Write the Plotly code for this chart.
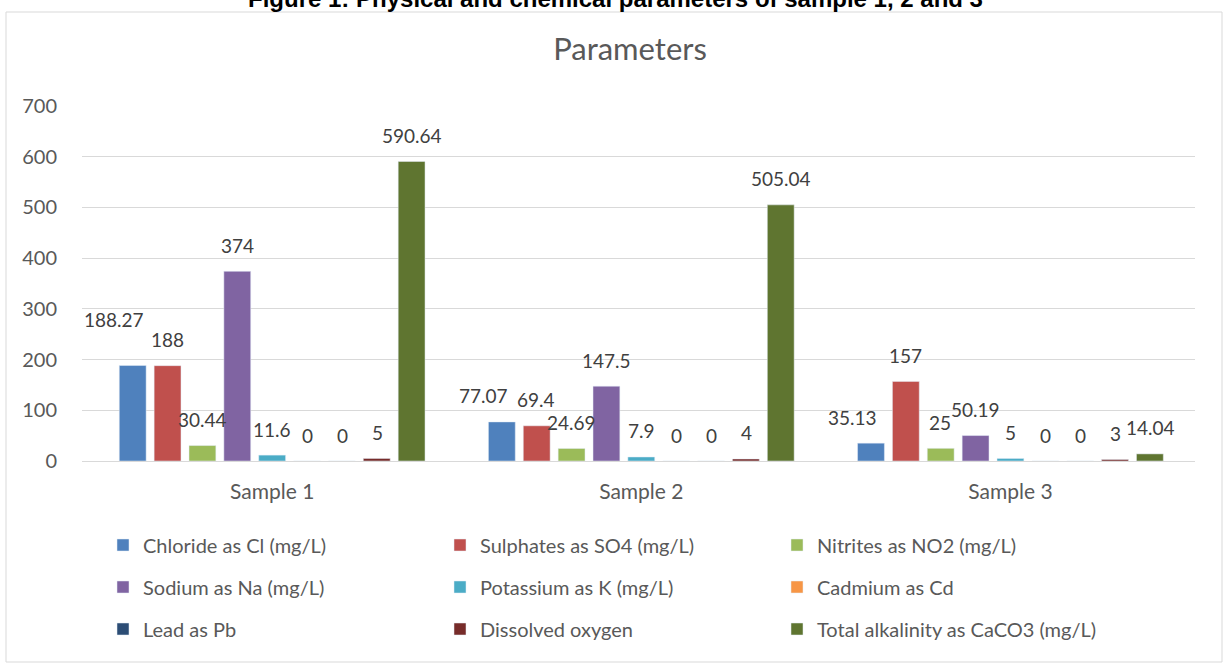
import plotly.graph_objects as go

categories = ["Sample 1", "Sample 2", "Sample 3"]
series_names = [
    "Chloride as Cl (mg/L)",
    "Sulphates as SO4 (mg/L)",
    "Nitrites as NO2 (mg/L)",
    "Sodium as Na (mg/L)",
    "Potassium as K (mg/L)",
    "Cadmium as Cd",
    "Lead as Pb",
    "Dissolved oxygen",
    "Total alkalinity as CaCO3 (mg/L)",
]
chloride = [188.27, 77.07, 35.13]
sulphates = [188, 69.4, 157]
nitrites = [30.44, 24.69, 25]
sodium = [374, 147.5, 50.19]
potassium = [11.6, 7.9, 5]
cadmium = [0, 0, 0]
lead = [0, 0, 0]
dissolved_oxygen = [5, 4, 3]
alkalinity = [590.64, 505.04, 14.04]
y_ticks = [0, 100, 200, 300, 400, 500, 600, 700]

series_values = [chloride, sulphates, nitrites, sodium, potassium,
                 cadmium, lead, dissolved_oxygen, alkalinity]
colors = ["#4F81BD", "#C0504D", "#9BBB59", "#8064A2", "#4BACC6",
          "#F79646", "#2C4D75", "#772C2A", "#5F7530"]

# styling of the value labels (pixel offsets, not data)
label_dx = [-18, 0, 0, 0, 0, 0, 0, 0, 0]   # per series horizontal nudge
label_lift = {(0, 0): 20}                 # extra lift for one crowded label

FONT = "Lato, Open Sans, sans-serif"
GREY = "#595959"
W, H = 1230, 667
ML, MR, MT, MB = 82, 35, 106, 206
BARGAP, BARGROUPGAP = 0.15, 0.23

fig = go.Figure()
for i, (name, vals, col) in enumerate(zip(series_names, series_values, colors)):
    fig.add_trace(go.Bar(
        name=name, x=categories, y=vals, marker_color=col,
        legend=["legend", "legend2", "legend3"][i // 3],
        hoverinfo="x+y+name",
    ))

# value labels, anchored at each bar's value via the data axes
plot_w = W - ML - MR
slot = plot_w / len(categories) * (1 - BARGAP) / len(series_names)
for i, vals in enumerate(series_values):
    for j, v in enumerate(vals):
        fig.add_annotation(
            x=categories[j], y=v, xref="x", yref="y", text=f"{v:g}",
            showarrow=False, xanchor="center", yanchor="middle",
            xshift=(i - (len(series_names) - 1) / 2) * slot + label_dx[i],
            yshift=26 + label_lift.get((i, j), 0),
            font=dict(size=19, color="#404040", family=FONT),
        )

leg_common = dict(orientation="h", xanchor="left", yanchor="middle",
                  entrywidth=292, entrywidthmode="pixels",
                  font=dict(size=20, color=GREY, family=FONT),
                  bgcolor="rgba(0,0,0,0)", itemclick=False, itemdoubleclick=False)
rows_px = [545, 587, 629]


def py(p):
    return (H - MB - p) / (H - MT - MB)


x_leg = (103 - ML) / plot_w

fig.update_layout(
    width=W, height=H,
    margin=dict(l=ML, r=MR, t=MT, b=MB),
    paper_bgcolor="white", plot_bgcolor="white",
    barmode="group", bargap=BARGAP, bargroupgap=BARGROUPGAP,
    title=dict(text="Parameters", x=(630 - ML) / plot_w, xref="paper", xanchor="center",
               y=1 - 49 / H, yanchor="middle",
               font=dict(size=31, color=GREY, family=FONT)),
    legend=dict(x=x_leg, y=py(rows_px[0]), **leg_common),
    legend2=dict(x=x_leg, y=py(rows_px[1]), **leg_common),
    legend3=dict(x=x_leg, y=py(rows_px[2]), **leg_common),
    xaxis=dict(showline=True, linecolor="#D9D9D9", linewidth=1, ticks="",
               ticklabelstandoff=12,
               tickfont=dict(size=21, color=GREY, family=FONT)),
    yaxis=dict(range=[0, 700], tickvals=y_ticks, showgrid=True, gridcolor="#D9D9D9",
               zeroline=False, ticks="", ticklabelstandoff=24,
               tickfont=dict(size=20, color=GREY, family=FONT)),
    showlegend=True,
)

# chart border
fig.add_shape(type="rect", xref="paper", yref="paper",
              x0=(6 - ML) / plot_w, x1=(1222 - ML) / plot_w,
              y0=py(662), y1=py(12),
              line=dict(color="#D9D9D9", width=1), fillcolor="rgba(0,0,0,0)", layer="below")

# outer figure caption (partly cut at top in the reference)
fig.add_annotation(text="<b>Figure 1: Physical and chemical parameters of sample 1, 2 and 3</b>",
                   xref="paper", yref="paper", x=(615 - ML) / plot_w, y=py(-1),
                   xanchor="center", yanchor="middle", showarrow=False,
                   font=dict(size=24, color="#000000", family="Liberation Sans, Arial"))

fig.write_html("out.html", config={"displayModeBar": False})

# remove the default page margin so the figure sits at the window's top-left corner
with open("out.html", encoding="utf-8") as f:
    html = f.read()
html = html.replace("<head>", "<head><style>html,body{margin:0;padding:0;overflow:hidden;}</style>", 1)
with open("out.html", "w", encoding="utf-8") as f:
    f.write(html)
